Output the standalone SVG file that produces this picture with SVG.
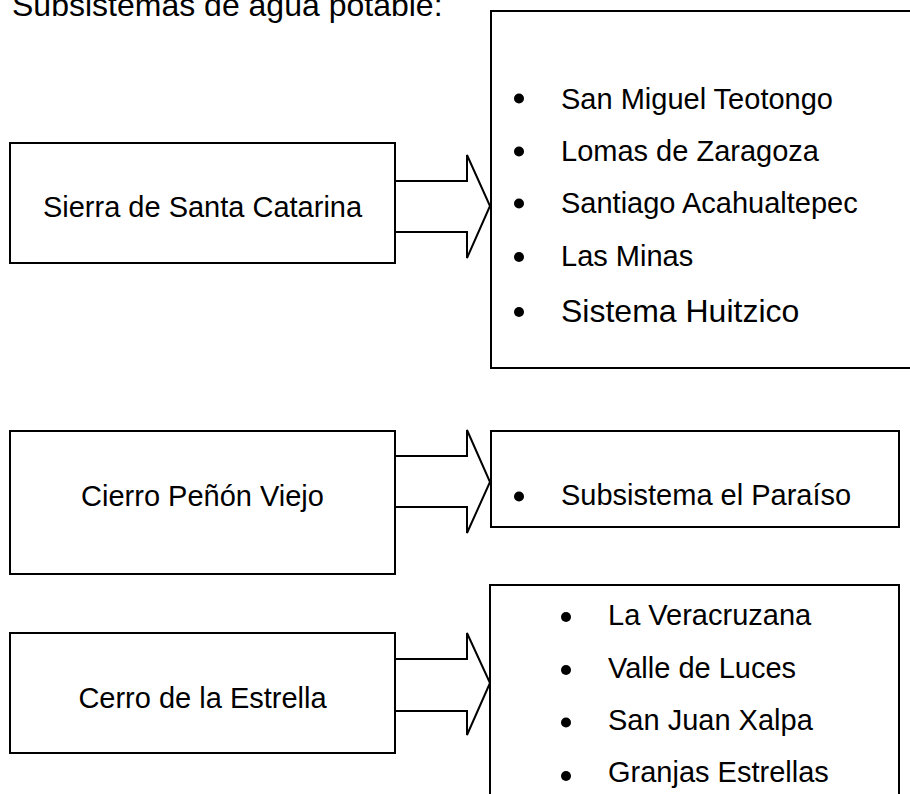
<svg xmlns="http://www.w3.org/2000/svg" width="910" height="794" viewBox="0 0 910 794">
<style>
.box{fill:#fff;stroke:#000;stroke-width:2}
.arr{fill:#fff;stroke:#000;stroke-width:2;stroke-linejoin:miter}
text{font-family:"Liberation Sans",Arial,sans-serif;fill:#000}
.t{font-size:29px}
.c{text-anchor:middle}
.big{font-size:32px}
.b{fill:#000}
</style>
<rect width="910" height="794" fill="#fff"/>
<text class="big" x="12" y="16">Subsistemas de agua potable:</text>

<g id="connectors">
<path class="arr" d="M395,181 H467 V155 L490,206 L467,258 V232 H395"/>
<path class="arr" d="M395,456 H467 V430 L490,482 L467,533 V507 H395"/>
<path class="arr" d="M395,659 H467 V633 L490,683 L467,735 V711 H395"/>
</g>

<g id="src1">
<rect class="box" x="10" y="143" width="385" height="120"/>
<text class="t c" x="202.5" y="217">Sierra de Santa Catarina</text>
</g>
<g id="src2">
<rect class="box" x="10" y="431" width="385" height="143"/>
<text class="t c" x="202.5" y="506">Cierro Peñón Viejo</text>
</g>
<g id="src3">
<rect class="box" x="10" y="633" width="385" height="120"/>
<text class="t c" x="202.5" y="708">Cerro de la Estrella</text>
</g>

<g id="list1">
<rect class="box" x="491" y="11" width="430" height="357"/>
<circle class="b" cx="519" cy="98.5" r="5"/>
<text class="t" x="561" y="108.5">San Miguel Teotongo</text>
<circle class="b" cx="519" cy="151.5" r="5"/>
<text class="t" x="561" y="161">Lomas de Zaragoza</text>
<circle class="b" cx="519" cy="203.5" r="5"/>
<text class="t" x="561" y="213">Santiago Acahualtepec</text>
<circle class="b" cx="519" cy="257" r="5"/>
<text class="t" x="561" y="266">Las Minas</text>
<circle class="b" cx="519" cy="312" r="5"/>
<text class="big" x="561" y="322">Sistema Huitzico</text>
</g>

<g id="list2">
<rect class="box" x="491" y="431" width="408" height="96"/>
<circle class="b" cx="519" cy="496.5" r="5"/>
<text class="t" x="561" y="505">Subsistema el Paraíso</text>
</g>

<g id="list3">
<rect class="box" x="490" y="585" width="409" height="230"/>
<circle class="b" cx="566" cy="617" r="5"/>
<text class="t" x="608" y="625">La Veracruzana</text>
<circle class="b" cx="566" cy="670" r="5"/>
<text class="t" x="608" y="678">Valle de Luces</text>
<circle class="b" cx="566" cy="722.5" r="5"/>
<text class="t" x="608" y="730">San Juan Xalpa</text>
<circle class="b" cx="566" cy="776" r="5"/>
<text class="t" x="608" y="782">Granjas Estrellas</text>
</g>
</svg>
